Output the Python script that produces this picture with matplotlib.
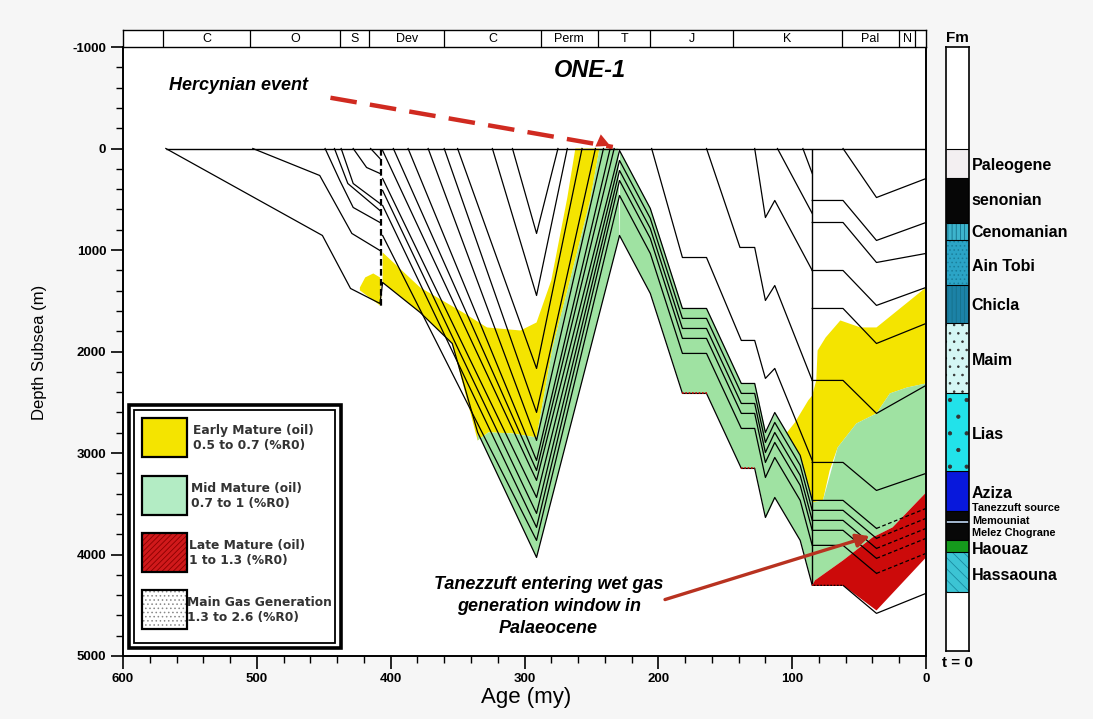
import numpy as np
import matplotlib.pyplot as plt
from matplotlib.patches import Rectangle
from matplotlib.ticker import MultipleLocator, FuncFormatter

plt.rcParams['font.family'] = ['Liberation Sans', 'DejaVu Sans']
plt.rcParams['hatch.linewidth'] = 0.6

# ---------------- data (age in my, depth subsea in m) ----------------
period_edges = [600, 570, 505, 438, 416, 360, 288, 245, 206, 144, 63, 20, 8, 0]
period_names = ["", "C", "O", "S", "Dev", "C", "Perm", "T", "J", "K", "Pal", "N", ""]

# basement (oldest horizon)
basement_age = [568, 451, 430, 408, 406, 378, 354, 335, 291, 229, 206, 182, 164,
                138, 128, 120, 113, 94, 85, 62, 37, 0]
basement_depth = [0, 857, 1379, 1527, 1320, 1615, 1921, 2797, 4029, 857, 1428, 2413, 2413,
                  3152, 3152, 3635, 3438, 3861, 4304, 4304, 4580, 4383]

# Palaeozoic package that survives the Hercynian uplift
package_age = [406, 291, 229, 206, 182, 164, 138, 128, 120, 113, 94, 85, 62, 37, 0]
package_1 = [857, 3861, 463, 1034, 2019, 2019, 2758, 2758, 3241, 3044, 3467, 3910, 3910, 4186, 3989]
package_2 = [561, 3733, 315, 886, 1871, 1871, 2610, 2610, 3093, 2896, 3319, 3762, 3762, 4038, 3841]
package_3 = [414, 3595, 217, 788, 1773, 1773, 2512, 2512, 2995, 2798, 3221, 3664, 3664, 3940, 3743]
package_4 = [296, 3438, 118, 689, 1674, 1674, 2413, 2413, 2896, 2699, 3122, 3565, 3565, 3841, 3644]
package_5 = [20, 3270, 20, 591, 1576, 1576, 2315, 2315, 2798, 2601, 3024, 3467, 3467, 3743, 3546]

# Cambro-Silurian horizons cut at the Caledonian break
lower_paleozoic = [
    ([503, 453, 429, 408], [0, 266, 837, 1005]),
    ([449, 438, 428, 408], [0, 315, 581, 729]),
    ([442, 432, 408], [0, 345, 611]),
    ([437, 428, 408], [0, 345, 542]),
    ([428, 418, 408], [0, 187, 246]),
    ([415, 408], [0, 99]),
]

# Devonian-Carboniferous horizons eroded before the Hercynian event
carboniferous = [
    ([309, 291, 275], [0, 837, 0]),
    ([324, 291, 268], [0, 1448, 0]),
    ([350, 291, 257], [0, 2167, 0]),
    ([360, 291, 247], [0, 2600, 0]),
    ([372, 291, 241], [0, 2876, 0]),
    ([387, 291, 236], [0, 3073, 0]),
    ([398, 291, 233], [0, 3172, 0]),
]

# Mesozoic horizons
mesozoic = [
    ([205, 182, 164, 138, 128, 120, 113, 85], [0, 1074, 1074, 1891, 1891, 2265, 2167, 3073]),
    ([164, 139, 128, 120, 113, 85], [0, 975, 975, 1497, 1350, 2285]),
    ([128, 120, 113, 85], [0, 680, 512, 1202]),
    ([111, 85], [0, 640]),
    ([92, 85], [0, 246]),
]

# Late Cretaceous - Cenozoic horizons
cenozoic = [
    ([62, 37, 0], [0, 483, 296]),
    ([85, 62, 37, 0], [512, 512, 906, 729]),
    ([85, 62, 37, 0], [729, 729, 1123, 1034]),
    ([85, 62, 37, 0], [1202, 1202, 1546, 1369]),
    ([85, 62, 37, 0], [1576, 1576, 1921, 1724]),
    ([85, 62, 37, 0], [2285, 2285, 2610, 2334]),
    ([85, 62, 37, 0], [3093, 3093, 3369, 3201]),
]

# maturity windows (polygons)
early_mature = [
    ([423, 419, 413, 408, 407, 408, 423], [1369, 1270, 1231, 1270, 1468, 1546, 1398]),
    ([406, 378, 346, 328, 303, 291, 280, 268, 262, 244, 251, 266, 279, 291, 309, 327, 335, 354, 378, 406],
     [1024, 1369, 1615, 1763, 1793, 1714, 1300, 483, 0, 0, 512, 1300, 1960, 2847, 2807, 2797, 2876, 1921, 1615, 1320]),
    ([104, 98, 88, 85, 82, 81, 75, 64, 49, 37, 0, 0, 14, 27, 37, 52, 66, 72, 77, 85, 94],
     [2800, 2700, 2482, 2433, 2285, 1990, 1862, 1694, 1763, 1763, 1369, 2315, 2354, 2413, 2610, 2709, 2945, 3172, 3467, 3487, 3024]),
]
mid_mature = [
    ([335, 327, 309, 291, 279, 266, 251, 244, 230, 229, 291, 335],
     [2876, 2797, 2807, 2847, 1960, 1300, 512, 0, 0, 857, 4029, 2797]),
    ([77, 66, 52, 37, 27, 14, 0, 0, 25, 40, 62, 83, 85, 85],
     [3467, 2945, 2709, 2610, 2413, 2354, 2315, 3390, 3733, 3832, 4058, 4255, 4304, 3487]),
]
late_mature = [
    ([85, 83, 62, 40, 25, 0, 0, 37, 62, 85], [4304, 4255, 4058, 3832, 3733, 3390, 4029, 4551, 4304, 4304]),
]
late_flats_age = [(182, 164), (138, 128), (85, 62)]
late_flats_depth = [2413, 3152, 4304]

caledonian_age, caledonian_base = 407, 1576
late_k_age = 85

# formation column (present-day depths)
fm_names = ["Paleogene", "senonian", "Cenomanian", "Ain Tobi", "Chicla", "Maim", "Lias",
            "Aziza", "Tanezzuft source", "Memouniat", "Melez Chograne", "Haouaz", "Hassaouna"]
fm_top = [0, 286, 729, 906, 1349, 1714, 2413, 3172, 3566, 3660, 3690, 3861, 3979]
fm_base = [286, 729, 906, 1349, 1714, 2413, 3172, 3566, 3660, 3690, 3861, 3979, 4373]
fm_colors = ["#f3eff1", "#060606", "#3db4cc", "#2ba4c6", "#1c82a6", "#d4f6f4", "#22e2ea",
             "#0818dc", "#080808", "#a9bed6", "#080808", "#159a1c", "#3cc4d4"]
fm_hatch = [None, None, "||||", "....", "||||", "..", ".", None, None, None, None, None, "\\\\\\"]
fm_label_depth = [167, 512, 827, 1162, 1546, 2088, 2817, 3398, 3545, 3665, 3790, 3955, 4206]
fm_label_size = [11.5, 11.5, 11.5, 11.5, 11.5, 11.5, 11.5, 11.5, 7.8, 7.8, 7.8, 11.5, 11.5]

# annotation arrows
hercynian_age, hercynian_depth = [445, 234], [-500, -15]
wetgas_age, wetgas_depth = [197, 40], [4452, 3812]

YELLOW = "#f4e400"
GREEN = "#9fe2a2"
RED = "#cc0a0a"

# ---------------- figure ----------------
W, H = 1093, 719
fig = plt.figure(figsize=(W / 100, H / 100), dpi=100, facecolor="#f6f6f6")
ax = fig.add_axes([123 / W, 1 - 656 / H, 803 / W, 609 / H])
ax.set_facecolor("white")
ax.set_xlim(600, 0)
ax.set_ylim(5000, -1000)

# maturity fills
for a, d in early_mature:
    ax.fill(a, d, color=YELLOW, lw=0, zorder=1)
for a, d in mid_mature:
    ax.fill(a, d, color=GREEN, lw=0, zorder=1)
pk = np.array(package_age)
base_on_pk = np.interp(pk, basement_age[::-1], basement_depth[::-1])
sel = (pk <= 229) & (pk >= late_k_age)
ax.fill_between(pk[sel], np.array(package_5)[sel], base_on_pk[sel], color=GREEN, lw=0, zorder=1)
for a, d in late_mature:
    ax.fill(a, d, color=RED, lw=0, zorder=1)

# horizons
lk = dict(color="black", lw=0.9, zorder=3)
ax.plot(basement_age, basement_depth, **lk)
cut = package_age.index(37)
for p in [package_1, package_2, package_3, package_4, package_5]:
    ax.plot(package_age[:cut + 1], p[:cut + 1], **lk)
    ax.plot(package_age[cut:], p[cut:], color="black", lw=0.9, ls=(0, (3, 2)), zorder=3)
for group in [lower_paleozoic, carboniferous, mesozoic, cenozoic]:
    for a, d in group:
        ax.plot(a, d, **lk)
for (a0, a1), d in zip(late_flats_age, late_flats_depth):
    ax.plot([a0, a1], [d, d], color=RED, lw=1.2, ls=(0, (1, 1)), zorder=4)

ax.hlines(0, basement_age[0], 0, color="black", lw=1.0, zorder=3)
ax.vlines(late_k_age, 0, basement_depth[basement_age.index(late_k_age)], color="black", lw=1.0, zorder=3)
ax.vlines(caledonian_age, 0, caledonian_base, color="black", lw=1.6, ls=(0, (3, 1.5)), zorder=3)

# annotations
ax.plot(hercynian_age, hercynian_depth, color="#d02a20", lw=3.2, ls=(0, (6, 3)), zorder=5)
ax.annotate("", xy=(hercynian_age[1], hercynian_depth[1]), xytext=(hercynian_age[1] + 12, hercynian_depth[1] - 70),
            arrowprops=dict(arrowstyle="-|>", color="#d02a20", lw=0, mutation_scale=24), zorder=5)
ax.annotate("", xy=(wetgas_age[1], wetgas_depth[1]), xytext=(wetgas_age[0], wetgas_depth[0]),
            arrowprops=dict(arrowstyle="-|>", color="#b83220", lw=2.4, mutation_scale=20), zorder=5)
ax.text(566, -620, "Hercynian event", fontsize=13, fontweight="bold", style="italic", ha="left", va="center")
ax.text(251, -770, "ONE-1", fontsize=17, fontweight="bold", style="italic", ha="center", va="center")
ax.text(282, 4510, "Tanezzuft entering wet gas\ngeneration window in\nPalaeocene", fontsize=13,
        fontweight="bold", style="italic", ha="center", va="center", linespacing=1.4, zorder=6)

# axes cosmetics
for s in ax.spines.values():
    s.set_linewidth(1.4)
ax.xaxis.set_major_locator(MultipleLocator(100))
ax.xaxis.set_minor_locator(MultipleLocator(20))
ax.yaxis.set_major_locator(MultipleLocator(1000))
ax.yaxis.set_minor_locator(MultipleLocator(200))
ax.yaxis.set_major_formatter(FuncFormatter(lambda v, p: f"{v:.0f}"))
ax.tick_params(which="major", direction="out", length=9, width=1.2, labelsize=9.5, pad=3)
ax.tick_params(which="minor", direction="out", length=5, width=1.0)
for lab in ax.get_xticklabels() + ax.get_yticklabels():
    lab.set_fontweight("bold")
fig.text(40 / W, 1 - 352 / H, "Depth Subsea (m)", rotation=90, ha="center", va="center", fontsize=12)
fig.text(526 / W, 1 - 698 / H, "Age (my)", ha="center", va="center", fontsize=16)

# period strip
axp = fig.add_axes([123 / W, 1 - 47 / H, 803 / W, 17 / H])
axp.set_xlim(600, 0)
axp.set_ylim(0, 1)
axp.set_xticks([])
axp.set_yticks([])
for e in period_edges[1:-1]:
    axp.axvline(e, color="black", lw=0.9)
for i, name in enumerate(period_names):
    axp.text((period_edges[i] + period_edges[i + 1]) / 2, 0.45, name, ha="center", va="center", fontsize=9)
for s in axp.spines.values():
    s.set_linewidth(1.0)

# legend box
lg = fig.add_axes([127 / W, 1 - 649 / H, 215 / W, 245 / H])
lg.set_xlim(0, 215)
lg.set_ylim(245, 0)
lg.axis("off")
lg.add_patch(Rectangle((1.5, 1.5), 212, 242, facecolor="white", edgecolor="black", lw=2.6, clip_on=False))
lg.add_patch(Rectangle((7, 6), 201, 233, fill=False, edgecolor="black", lw=1.3, clip_on=False))
legend_fill = [YELLOW, "#b3ecc4", "#d0191b", "white"]
legend_hatch = [None, None, "//////", "...."]
legend_hcol = [YELLOW, "#b3ecc4", "#8a0000", "#888888"]
legend_text = ["Early Mature (oil)\n0.5 to 0.7 (%R0)", "Mid Mature (oil)\n0.7 to 1 (%R0)",
               "Late Mature (oil)\n1 to 1.3 (%R0)", "Main Gas Generation\n1.3 to 2.6 (%R0)"]
legend_top = [14, 72, 129, 186]
legend_tx = [66, 64, 62, 60]
for fc, hh, hc, txt, top, tx in zip(legend_fill, legend_hatch, legend_hcol, legend_text, legend_top, legend_tx):
    lg.add_patch(Rectangle((15, top), 45, 39, facecolor=fc, edgecolor=hc, hatch=hh, lw=0))
    lg.add_patch(Rectangle((15, top), 45, 39, fill=False, edgecolor="black", lw=1.6))
    lg.text(tx, top + 20, txt, ha="left", va="center", fontsize=8.8, fontweight="bold",
            family=["DejaVu Sans"], color="#333333", linespacing=1.25)

# formation column
axf = fig.add_axes([946 / W, 1 - 651 / H, 23 / W, 604 / H])
axf.set_xlim(0, 1)
axf.set_ylim(4950, -1000)
axf.set_xticks([])
axf.set_yticks([])
axf.set_facecolor("white")
hatch_col = {"||||": "#15708a", "....": "#1a7f9c", "..": "#333333", ".": "#333333", "\\\\\\": "#1a8aa0"}
for name, top, base, col, hat, ly, fs in zip(fm_names, fm_top, fm_base, fm_colors, fm_hatch,
                                             fm_label_depth, fm_label_size):
    axf.add_patch(Rectangle((0, top), 1, base - top, facecolor=col, lw=0,
                            edgecolor=hatch_col.get(hat, col), hatch=hat))
    axf.text(1.12, ly, name, transform=axf.get_yaxis_transform(), ha="left", va="center",
             fontsize=fs, fontweight="bold", clip_on=False)
axf.hlines([fm_top[0]] + fm_base, 0, 1, color="black", lw=0.8)
for s in axf.spines.values():
    s.set_linewidth(1.2)
axf.text(0.5, 1.004, "Fm", transform=axf.transAxes, ha="center", va="bottom", fontsize=11, fontweight="bold")
axf.text(0.5, -0.008, "t = 0", transform=axf.transAxes, ha="center", va="top", fontsize=11, fontweight="bold")

fig.savefig("out.png", dpi=100, facecolor=fig.get_facecolor())
